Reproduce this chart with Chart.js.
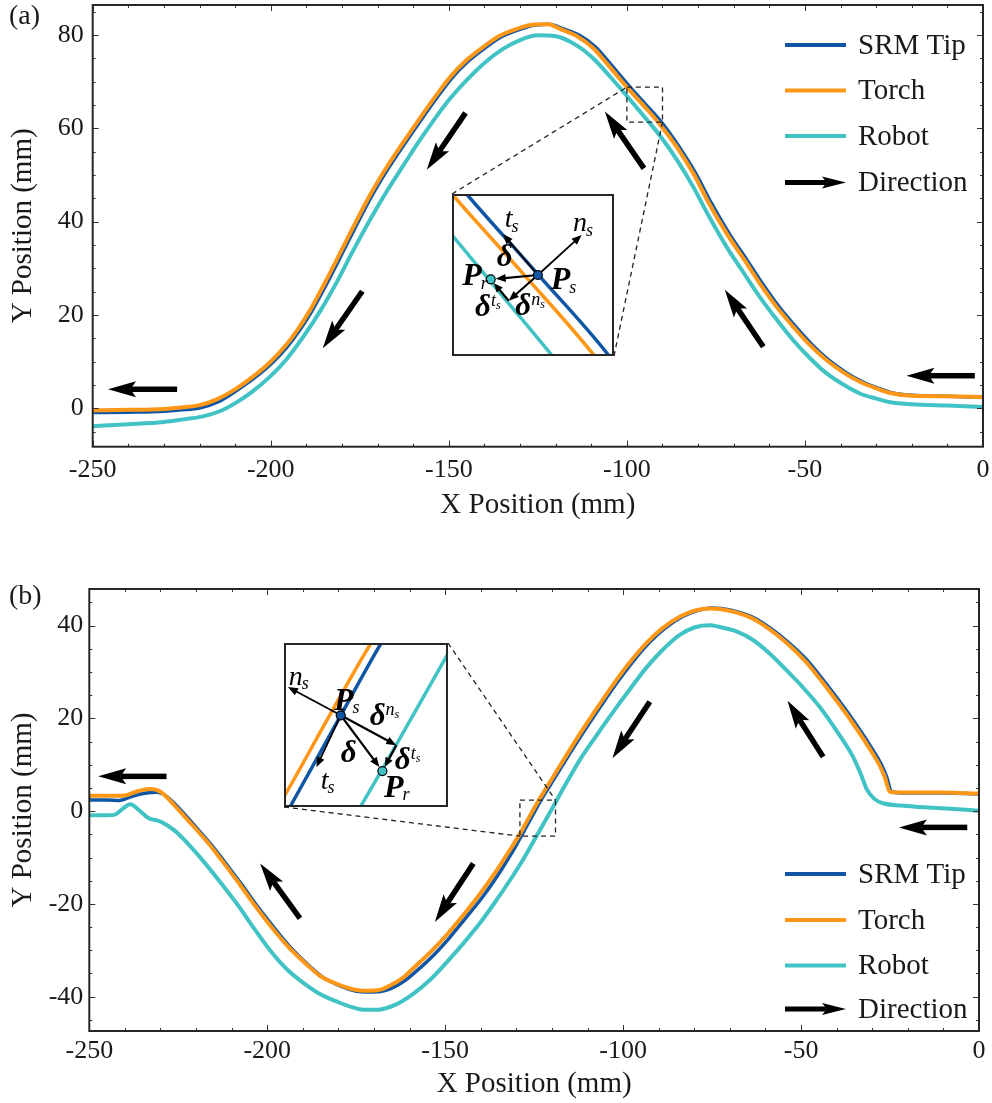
<!DOCTYPE html>
<html>
<head>
<meta charset="utf-8">
<script src="https://cdn.jsdelivr.net/npm/chart.js@4.4.0/dist/chart.umd.min.js"></script>
<style>
html,body{margin:0;padding:0;background:#fff;}
#wrap{position:relative;width:992px;height:1103px;overflow:hidden;background:#fff;}
canvas{position:absolute;display:block;}
</style>
</head>
<body>
<div id="wrap">
<canvas id="cA" width="992" height="540" style="left:0;top:0;width:992px;height:540px"></canvas>
<canvas id="cB" width="992" height="563" style="left:0;top:540px;width:992px;height:563px"></canvas>
<canvas id="iA" width="162" height="162" style="left:452px;top:194px;width:162px;height:162px"></canvas>
<canvas id="iB" width="164" height="164" style="left:284px;top:643px;width:164px;height:164px"></canvas>
</div>
<script>
// ---------------- DATA ----------------
const seriesNames = ['SRM Tip', 'Torch', 'Robot', 'Direction'];
const xTicks = [-250, -200, -150, -100, -50, 0];
const yTicksA = [0, 20, 40, 60, 80];
const yTicksB = [-40, -20, 0, 20, 40];
const xTitle = 'X Position (mm)';
const yTitle = 'Y Position (mm)';

// Panel (a): [x, y] in mm
const aSrm = [[-250,-0.9],[-240,-0.8],[-230,-0.6],[-225,-0.3],[-220,0.1],[-214.5,1.5],[-209.1,4.1],[-204.5,6.6],[-199.7,9.7],[-195.5,13.1],[-192.2,16.4],[-188.5,20.8],[-184.5,26.4],[-181,31.6],[-176.5,38.4],[-171.7,45.4],[-167,51.4],[-162.3,56.8],[-157.5,62.1],[-152.9,67.0],[-149.2,70.7],[-144.5,74.4],[-139.5,77.4],[-135.2,79.6],[-129.6,81.3],[-125.7,82.1],[-121.8,82.3],[-118.2,81.4],[-113.3,79.9],[-108.8,77.4],[-104.2,73.4],[-99.1,68.8],[-94.6,65.0],[-90.3,61.3],[-85.3,56.0],[-80.7,50.4],[-76.3,44.0],[-71.3,37.5],[-66.3,31.8],[-62,26.8],[-57.3,21.8],[-52.6,17.5],[-47.8,13.5],[-43.2,10.3],[-38.3,7.6],[-33.9,5.7],[-29.3,4.3],[-25.3,3.3],[-20,2.8],[-10,2.6],[0,2.4]];
const aTorch = [[-250,-0.4],[-240,-0.3],[-230,-0.1],[-225,0.2],[-220,0.7],[-215,2.0],[-209.6,4.3],[-205,6.8],[-200.2,9.9],[-196,13.3],[-192.7,16.6],[-189,21.0],[-185,26.6],[-181.5,31.8],[-177,38.6],[-172.2,45.6],[-167.5,51.6],[-162.8,57.0],[-158,62.3],[-153.4,67.2],[-149.7,70.9],[-145,74.6],[-140,77.6],[-135.7,79.8],[-130,81.5],[-126,82.2],[-122,82.3],[-118.8,81.3],[-114,79.7],[-109.5,77.2],[-105,73.3],[-100,68.8],[-95.6,65.1],[-91.2,61.3],[-86,56.0],[-81.4,50.4],[-77,44.0],[-72,37.5],[-67,31.8],[-62.7,26.8],[-58,21.8],[-53.3,17.5],[-48.5,13.5],[-43.9,10.3],[-39,7.6],[-34.6,5.7],[-30,4.3],[-26,3.3],[-20,2.7],[-10,2.6],[0,2.4]];
const aRobot = [[-250,-3.8],[-240,-3.4],[-230,-2.9],[-225,-2.4],[-219,-1.7],[-214,-0.5],[-209.6,1.3],[-205,3.7],[-200.2,6.8],[-195.5,10.6],[-190.9,15.3],[-186,21.0],[-181.5,27.0],[-177,33.6],[-172.2,40.3],[-167.5,46.4],[-162.8,52.0],[-158,57.6],[-153.4,62.6],[-149.7,66.3],[-145,70.3],[-140,74.0],[-135,76.9],[-130,78.9],[-125,79.9],[-120,79.7],[-114,77.7],[-109.5,75.0],[-105,71.3],[-100,66.9],[-96.9,64.1],[-93.8,61.3],[-90.7,58.4],[-86,53.3],[-81.4,47.5],[-77,41.2],[-72,34.6],[-67,28.8],[-62.7,23.9],[-58,19.1],[-53.3,14.6],[-48.5,10.7],[-43.9,7.5],[-39,5.0],[-34.6,3.2],[-30,2.1],[-26,1.3],[-20,0.9],[-10,0.6],[0,0.3]];

// Panel (b): [x, y] in mm
const bSrm = [[-250,2.4],[-245,2.4],[-241.5,2.3],[-238,3.2],[-234,3.9],[-231,4.1],[-229,3.6],[-225,0.8],[-221,-2.6],[-216,-7.0],[-212,-10.9],[-207,-16.0],[-202.6,-20.7],[-198,-25.2],[-193.2,-29.6],[-188.3,-33.3],[-184.2,-35.9],[-179.2,-37.8],[-175.2,-38.8],[-172,-39.0],[-168.2,-38.9],[-164.6,-38.0],[-161.1,-36.4],[-158.1,-34.5],[-153.2,-31.0],[-148.8,-27.3],[-144.2,-23.0],[-139.5,-18.5],[-135.2,-13.8],[-131.2,-8.9],[-128.5,-5.2],[-125.5,-1.0],[-123.2,2.2],[-120.8,5.2],[-116.3,10.8],[-111.5,16.6],[-106.3,22.6],[-102.1,27.3],[-97.3,32.2],[-92.7,36.3],[-88.3,39.4],[-83.4,41.9],[-79.3,43.2],[-75,43.8],[-72.4,43.7],[-67.5,42.9],[-63,41.6],[-58.5,39.4],[-53.6,36.4],[-48.5,32.7],[-44.3,28.8],[-39.5,24.0],[-34.9,19.1],[-30.5,14.0],[-27.4,10.0],[-25.9,7.3],[-24.6,4.2],[-20,3.9],[-10,3.9],[0,3.7]];
const bTorch = [[-250,3.3],[-245,3.3],[-240,3.4],[-236.5,4.3],[-233,4.8],[-230,4.2],[-226,1.2],[-222,-2.2],[-217,-6.5],[-213,-10.4],[-208,-15.5],[-203.5,-20.3],[-199,-24.8],[-194,-29.3],[-189,-33.0],[-185,-35.6],[-180,-37.4],[-176,-38.4],[-173,-38.7],[-169,-38.6],[-165.5,-37.6],[-162,-36.0],[-159,-33.9],[-154,-30.3],[-149.6,-26.7],[-145,-22.5],[-140.3,-17.9],[-136,-13.3],[-132,-8.6],[-129,-4.9],[-126.4,-1.3],[-123.9,2.1],[-121.5,5.1],[-117,10.7],[-112.2,16.6],[-107,22.6],[-102.8,27.3],[-98,32.2],[-93.4,36.3],[-89,39.4],[-84.1,41.9],[-80,43.2],[-75.6,43.7],[-72.9,43.6],[-68,42.8],[-63.5,41.5],[-59,39.3],[-54.1,36.3],[-49,32.5],[-44.8,28.6],[-40,23.8],[-35.4,18.9],[-31,13.8],[-27.9,9.8],[-26.4,7.2],[-25.1,4.2],[-20,4.0],[-10,4.0],[0,3.8]];
const bRobot = [[-250,-0.9],[-246,-0.9],[-243,-0.8],[-240.5,0.6],[-238.5,1.5],[-236,0.2],[-233.5,-1.4],[-229.8,-2.3],[-226,-4.2],[-222.3,-7.0],[-217.5,-11.2],[-212.9,-15.6],[-208,-20.5],[-203.5,-25.5],[-199,-30.2],[-194.2,-34.3],[-189,-37.5],[-184.8,-39.6],[-180,-41.2],[-176,-42.3],[-173,-42.8],[-169,-42.8],[-163.6,-41.6],[-159,-39.4],[-154.3,-36.4],[-149.6,-32.6],[-144.9,-28.5],[-140,-23.9],[-135.6,-19.2],[-131.8,-14.9],[-128,-10.3],[-124.2,-5.2],[-123,-3.6],[-119.2,1.6],[-116,6.0],[-112.2,11.0],[-107.5,16.3],[-102.8,21.4],[-98,26.4],[-93.4,31.0],[-89,34.7],[-84.1,38.0],[-80,39.6],[-75.6,40.1],[-72.9,39.7],[-68,38.7],[-63.5,36.9],[-59,34.1],[-54.1,30.4],[-49.5,26.7],[-44.8,22.5],[-40,17.3],[-35.4,11.7],[-33,7.6],[-31.6,4.8],[-29.5,2.7],[-27,1.7],[-22,1.2],[-16.7,0.9],[-8,0.5],[0,0.1]];

// Direction arrows (tail x, tail y, tip x, tip y) in data units
const arrowsA = [[-226.3,4.1,-245.7,4.1],[-145.3,63.3,-156.2,51.1],[-174.3,25.1,-185.4,12.9],[-95.2,51.4,-106.2,63.6],[-61.7,13.2,-72.5,25.4],[-2.3,7.0,-21.5,7.0]];
const arrowsB = [[-228.3,7.5,-247.5,7.5],[-190.8,-23.1,-202.0,-11.3],[-142.1,-11.3,-152.9,-23.9],[-92.5,23.6,-103.0,11.4],[-43.8,11.7,-53.8,23.8],[-3.3,-3.5,-22.5,-3.5]];

// zoomed windows (data units)
const zoomA = {x: [-100, -90], y: [61.3, 68.8]};
const zoomB = {x: [-129, -119], y: [-5.39, 2.37]};

// inset annotation points (data units)
const insetPtsA = {Ps: [-94.7, 65.05], Pr: [-97.61, 64.85], ts: [-96.85, 66.95], ns: [-92.0, 66.9], dn: [-96.5, 63.86]};
const insetPtsB = {Ps: [-125.54, -1.05], Pr: [-123.0, -3.69], ts: [-127.02, -3.50], ns: [-128.76, 0.29], dn: [-122.15, -2.47]};

// ---------------- STYLE ----------------
const FONT = "'Liberation Serif','Times New Roman',serif";
const C_BLUE = '#0f56a5', C_ORANGE = '#fe9616', C_CYAN = '#41c3c6', C_INK = '#1a1a1a';
Chart.defaults.font.family = FONT;
Chart.defaults.color = C_INK;

const pts = arr => arr.map(p => ({x: p[0], y: p[1]}));

function drawArrow(ctx, x1, y1, x2, y2, shaft, headL, headW) {
  const ang = Math.atan2(y2 - y1, x2 - x1);
  const len = Math.hypot(x2 - x1, y2 - y1);
  ctx.save();
  ctx.translate(x1, y1); ctx.rotate(ang);
  ctx.fillStyle = '#000';
  ctx.fillRect(0, -shaft / 2, len - headL * 0.8, shaft);
  ctx.beginPath();
  ctx.moveTo(len, 0);
  ctx.lineTo(len - headL, -headW / 2);
  ctx.lineTo(len - headL * 0.8, 0);
  ctx.lineTo(len - headL, headW / 2);
  ctx.closePath(); ctx.fill();
  ctx.restore();
}
function thinArrow(ctx, x1, y1, x2, y2, lw, headL, headW) {
  const ang = Math.atan2(y2 - y1, x2 - x1);
  const len = Math.hypot(x2 - x1, y2 - y1);
  ctx.save();
  ctx.translate(x1, y1); ctx.rotate(ang);
  ctx.strokeStyle = '#000'; ctx.fillStyle = '#000'; ctx.lineWidth = lw;
  ctx.beginPath(); ctx.moveTo(0, 0); ctx.lineTo(len - headL + 1, 0); ctx.stroke();
  ctx.beginPath();
  ctx.moveTo(len, 0); ctx.lineTo(len - headL, -headW / 2); ctx.lineTo(len - headL, headW / 2);
  ctx.closePath(); ctx.fill();
  ctx.restore();
}

const framePlugin = {
  id: 'frame',
  afterDraw(chart, args, o) {
    const {ctx, chartArea: a} = chart;
    const xs = chart.scales.x, ys = chart.scales.y;
    ctx.save();
    const z = o.zoom;
    const bx1 = xs.getPixelForValue(z.x[0]), bx2 = xs.getPixelForValue(z.x[1]);
    const by1 = ys.getPixelForValue(z.y[1]), by2 = ys.getPixelForValue(z.y[0]);
    ctx.strokeStyle = '#222'; ctx.lineWidth = 1.3; ctx.setLineDash([5, 4]);
    ctx.strokeRect(bx1, by1, bx2 - bx1, by2 - by1);
    const ins = o.inset;
    ctx.beginPath();
    if (o.link === 'A') {
      ctx.moveTo(ins.l, ins.t); ctx.lineTo(bx1, by1);
      ctx.moveTo(ins.l + ins.s, ins.t + ins.s); ctx.lineTo(bx2, by2);
    } else {
      ctx.moveTo(ins.l + ins.s, ins.t); ctx.lineTo(bx2, by1);
      ctx.moveTo(ins.l, ins.t + ins.s); ctx.lineTo(bx1, by2);
    }
    ctx.stroke();
    ctx.setLineDash([]);
    for (const ar of o.arrows) {
      drawArrow(ctx, xs.getPixelForValue(ar[0]), ys.getPixelForValue(ar[1]),
        xs.getPixelForValue(ar[2]), ys.getPixelForValue(ar[3]), 5.5, 28, 16);
    }
    ctx.strokeStyle = '#333'; ctx.lineWidth = 1;
    const tick = (x1, y1, x2, y2) => { ctx.beginPath(); ctx.moveTo(x1, y1); ctx.lineTo(x2, y2); ctx.stroke(); };
    for (let v = xs.min; v <= xs.max + 1e-9; v += 10) {
      const px = Math.round(xs.getPixelForValue(v)) + 0.5;
      const L = (Math.abs(v % 50) < 1e-9) ? 6 : 3;
      tick(px, a.bottom, px, a.bottom - L); tick(px, a.top, px, a.top + L);
    }
    for (let v = Math.ceil(ys.min / 5) * 5; v <= ys.max; v += 5) {
      const py = Math.round(ys.getPixelForValue(v)) + 0.5;
      const L = (Math.abs(v % 20) < 1e-9) ? 6 : 3;
      tick(a.left, py, a.left + L, py); tick(a.right, py, a.right - L, py);
    }
    ctx.strokeStyle = '#262626'; ctx.lineWidth = 2;
    ctx.strokeRect(a.left, a.top, a.right - a.left, a.bottom - a.top);
    const lg = o.legend;
    const cols = [C_BLUE, C_ORANGE, C_CYAN];
    ctx.font = '29px ' + FONT; ctx.fillStyle = C_INK; ctx.textAlign = 'left'; ctx.textBaseline = 'middle';
    for (let i = 0; i < 4; i++) {
      const y = lg.ys[i];
      if (i < 3) {
        ctx.strokeStyle = cols[i]; ctx.lineWidth = 4;
        ctx.beginPath(); ctx.moveTo(lg.x1, y); ctx.lineTo(lg.x2, y); ctx.stroke();
      } else {
        drawArrow(ctx, lg.x1, y, lg.x2, y, 5, 24, 12);
      }
      ctx.fillStyle = C_INK;
      ctx.fillText(seriesNames[i], lg.tx, y + 1);
    }
    ctx.font = '28px ' + FONT; ctx.textBaseline = 'middle'; ctx.textAlign = 'left';
    ctx.fillText(o.panel, 9, o.panelY);
    ctx.restore();
  }
};

function mainChart(id, s, cfg) {
  const ds = (label, data, color, w, order) => ({label, data: pts(data), borderColor: color, borderWidth: w,
    pointRadius: 0, fill: false, cubicInterpolationMode: 'monotone', clip: 0, order});
  return new Chart(document.getElementById(id), {
    type: 'line',
    data: {datasets: [
      ds(seriesNames[0], s[0], C_BLUE, 3.5, 1),
      ds(seriesNames[1], s[1], C_ORANGE, 4, 0),
      ds(seriesNames[2], s[2], C_CYAN, 4, 2)
    ]},
    options: {
      responsive: false, animation: false, devicePixelRatio: 1, events: [],
      layout: {padding: {left: 0, right: cfg.padR, top: cfg.padT, bottom: 0}},
      scales: {
        x: {type: 'linear', min: -250, max: 0,
          afterBuildTicks: sc => { sc.ticks = xTicks.map(v => ({value: v})); },
          afterFit: sc => { sc.height = cfg.xh; sc.paddingLeft = 0; sc.paddingRight = 0; },
          grid: {display: false, drawTicks: false}, border: {display: false},
          ticks: {font: {size: 26}, color: C_INK, padding: cfg.xpad, maxRotation: 0, autoSkip: false, callback: v => String(v)},
          title: {display: true, text: xTitle, font: {size: 29}, color: C_INK, padding: {top: 0, bottom: cfg.xtp}}},
        y: {type: 'linear', min: cfg.ymin, max: cfg.ymax,
          afterBuildTicks: sc => { sc.ticks = cfg.yt.map(v => ({value: v})); },
          afterFit: sc => { sc.width = cfg.yw; sc.paddingTop = 0; sc.paddingBottom = 0; },
          grid: {display: false, drawTicks: false}, border: {display: false},
          ticks: {font: {size: 26}, color: C_INK, padding: cfg.ypad, autoSkip: false, callback: v => String(v)},
          title: {display: true, text: yTitle, font: {size: 29}, color: C_INK, padding: {top: 5.5, bottom: 0}}}
      },
      plugins: {legend: {display: false}, tooltip: {enabled: false}, frame: cfg.frame}
    },
    plugins: [framePlugin]
  });
}

mainChart('cA', [aSrm, aTorch, aRobot], {
  padR: 9, padT: 5, xh: 93.3, yw: 92.7, xpad: 8, xtp: 17, ypad: 9, ymin: -8.2, ymax: 86.4, yt: yTicksA,
  frame: {zoom: zoomA, inset: {l: 452, t: 194, s: 162}, link: 'A', arrows: arrowsA,
    legend: {x1: 785, x2: 846, tx: 858, ys: [45, 90.5, 136, 182.5]}, panel: '(a)', panelY: 17}
});
mainChart('cB', [bSrm, bTorch, bRobot], {
  padR: 13, padT: 49, xh: 72, yw: 89.3, xpad: 4.5, xtp: 1, ypad: 6, ymin: -47.4, ymax: 47.9, yt: yTicksB,
  frame: {zoom: zoomB, inset: {l: 284, t: 103, s: 164}, link: 'B', arrows: arrowsB,
    legend: {x1: 785, x2: 846, tx: 858, ys: [334, 380, 425.5, 469]}, panel: '(b)', panelY: 57}
});

// ---------------- INSETS ----------------
function lbl(ctx, x, y, base, bf, opt) {
  ctx.font = bf; ctx.textAlign = 'center'; ctx.textBaseline = 'middle'; ctx.fillStyle = '#000';
  ctx.fillText(base, x, y);
  const w = ctx.measureText(base).width;
  if (opt && opt.sub) {
    ctx.font = 'italic 18px ' + FONT; ctx.textAlign = 'left';
    ctx.fillText(opt.sub, x + w / 2 - 1, y + 7);
  }
  if (opt && opt.sup) {
    ctx.font = 'italic 18px ' + FONT; ctx.textAlign = 'left';
    const sx = x + w / 2;
    ctx.fillText(opt.sup, sx, y - 7);
    const w2 = ctx.measureText(opt.sup).width;
    ctx.font = 'italic 12px ' + FONT;
    ctx.fillText('s', sx + w2, y - 3);
  }
}

const insetPlugin = {
  id: 'insetDecor',
  beforeDraw(chart) {
    const ctx = chart.ctx; ctx.save(); ctx.fillStyle = '#fff';
    ctx.fillRect(0, 0, chart.width, chart.height); ctx.restore();
  },
  afterDraw(chart, args, o) {
    const {ctx} = chart; const xs = chart.scales.x, ys = chart.scales.y;
    const P = p => [xs.getPixelForValue(p[0]), ys.getPixelForValue(p[1])];
    const q = o.pts;
    const Ps = P(q.Ps), Pr = P(q.Pr), ts = P(q.ts), ns = P(q.ns), dn = P(q.dn);
    ctx.save();
    thinArrow(ctx, Ps[0], Ps[1], ts[0], ts[1], 1.8, 10, 8);
    thinArrow(ctx, Ps[0], Ps[1], ns[0], ns[1], 1.8, 10, 8);
    thinArrow(ctx, Ps[0], Ps[1], dn[0], dn[1], 2.2, 10, 8);
    const ang = Math.atan2(Pr[1] - Ps[1], Pr[0] - Ps[0]);
    thinArrow(ctx, Ps[0], Ps[1], Pr[0] - Math.cos(ang) * 5, Pr[1] - Math.sin(ang) * 5, 2.2, 10, 8);
    const ang2 = Math.atan2(Pr[1] - dn[1], Pr[0] - dn[0]);
    thinArrow(ctx, dn[0], dn[1], Pr[0] - Math.cos(ang2) * 5, Pr[1] - Math.sin(ang2) * 5, 2.2, 9, 8);
    ctx.lineWidth = 1.2; ctx.strokeStyle = '#000';
    ctx.fillStyle = C_BLUE; ctx.beginPath(); ctx.arc(Ps[0], Ps[1], 4.5, 0, Math.PI * 2); ctx.fill(); ctx.stroke();
    ctx.fillStyle = C_CYAN; ctx.beginPath(); ctx.arc(Pr[0], Pr[1], 4.5, 0, Math.PI * 2); ctx.fill(); ctx.stroke();
    for (const L of o.labels) {
      const p = P([L.x, L.y]);
      lbl(ctx, p[0], p[1], L.t, L.f, L);
    }
    ctx.strokeStyle = '#262626'; ctx.lineWidth = 2;
    ctx.strokeRect(1, 1, chart.width - 2, chart.height - 2);
    ctx.restore();
  }
};

const BP = 'bold italic 32px ' + FONT, BD = 'bold italic 31px ' + FONT, IT = 'italic 28px ' + FONT;
const labelsA = [
  {t: 't', f: IT, x: -96.5, y: 67.6, sub: 's'},
  {t: 'n', f: IT, x: -92.1, y: 67.41, sub: 's'},
  {t: 'δ', f: BD, x: -96.75, y: 65.84},
  {t: 'P', f: BP, x: -98.77, y: 64.96, sub: 'r'},
  {t: 'P', f: BP, x: -93.3, y: 64.77, sub: 's'},
  {t: 'δ', f: BD, x: -98.09, y: 63.5, sup: 't'},
  {t: 'δ', f: BD, x: -95.6, y: 63.55, sup: 'n'}
];
const labelsB = [
  {t: 'n', f: IT, x: -128.29, y: 0.75, sub: 's'},
  {t: 'P', f: BP, x: -125.36, y: -0.39, sub: 's'},
  {t: 'δ', f: BD, x: -123.29, y: -1.15, sup: 'n'},
  {t: 'δ', f: BD, x: -125.05, y: -2.90},
  {t: 'δ', f: BD, x: -121.76, y: -3.23, sup: 't'},
  {t: 't', f: IT, x: -126.52, y: -4.17, sub: 's'},
  {t: 'P', f: BP, x: -122.31, y: -4.51, sub: 'r'}
];

function insetChart(id, s, zoom, ipts, labels) {
  const ds = (data, color, w, order) => ({data: pts(data), borderColor: color, borderWidth: w,
    pointRadius: 0, fill: false, cubicInterpolationMode: 'monotone', clip: 0, order});
  return new Chart(document.getElementById(id), {
    type: 'line',
    data: {datasets: [ds(s[0], C_BLUE, 3.5, 1), ds(s[1], C_ORANGE, 3.5, 0), ds(s[2], C_CYAN, 3.5, 2)]},
    options: {
      responsive: false, animation: false, devicePixelRatio: 1, events: [],
      layout: {padding: 0},
      scales: {x: {type: 'linear', display: false, min: zoom.x[0], max: zoom.x[1]},
               y: {type: 'linear', display: false, min: zoom.y[0], max: zoom.y[1]}},
      plugins: {legend: {display: false}, tooltip: {enabled: false}, insetDecor: {pts: ipts, labels}}
    },
    plugins: [insetPlugin]
  });
}
insetChart('iA', [aSrm, aTorch, aRobot], zoomA, insetPtsA, labelsA);
insetChart('iB', [bSrm, bTorch, bRobot], zoomB, insetPtsB, labelsB);
</script>
</body>
</html>
